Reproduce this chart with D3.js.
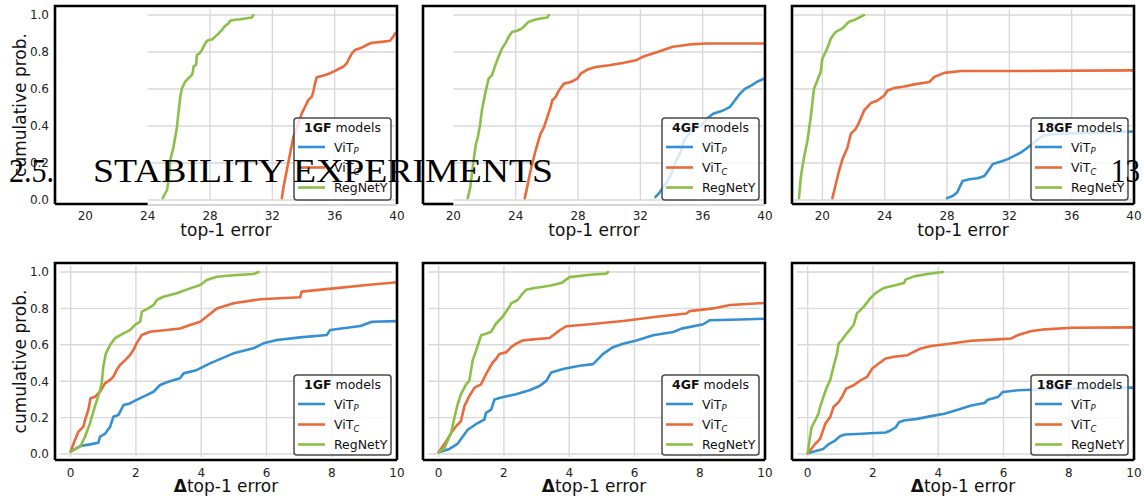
<!DOCTYPE html>
<html><head><meta charset="utf-8">
<script src="https://cdn.jsdelivr.net/npm/d3@7"></script>
<style>body{margin:0;background:#fff} svg{display:block}</style>
</head><body><svg id="c" width="1144" height="500"></svg>
<script>
// ---------------- data ----------------
const flopsGroups = ["1GF", "4GF", "18GF"];
const seriesNames = ["ViT_P", "ViT_C", "RegNetY"];
const errTicks = [20, 24, 28, 32, 36, 40];
const deltaTicks = [0, 2, 4, 6, 8, 10];
const probTicks = [0.0, 0.2, 0.4, 0.6, 0.8, 1.0];

// top-1 error CDFs  [error, cumulative prob]
const err1GF_ViTP = [];
const err1GF_ViTC = [[32.61,0.01],[32.72,0.072],[32.93,0.162],[33.14,0.252],[33.35,0.342],[33.67,0.414],[33.89,0.468],[34.1,0.504],[34.31,0.541],[34.53,0.558],[34.63,0.586],[34.74,0.631],[34.85,0.663],[35.17,0.67],[35.6,0.681],[35.92,0.694],[36.35,0.712],[36.56,0.721],[36.78,0.739],[36.88,0.757],[36.99,0.775],[37.1,0.793],[37.31,0.811],[37.63,0.82],[38.06,0.838],[38.38,0.85],[38.7,0.852],[39.12,0.856],[39.55,0.861],[39.76,0.883],[39.87,0.9],[40.2,0.905]];
const err1GF_RegNetY = [[24.96,0.01],[25.24,0.054],[25.34,0.108],[25.45,0.216],[25.66,0.288],[25.88,0.396],[25.99,0.486],[26.09,0.558],[26.2,0.604],[26.41,0.64],[26.62,0.658],[26.84,0.676],[26.9,0.694],[26.94,0.721],[27.1,0.73],[27.16,0.784],[27.33,0.793],[27.48,0.811],[27.58,0.829],[27.76,0.856],[27.9,0.865],[28.12,0.868],[28.33,0.883],[28.55,0.9],[28.76,0.919],[28.97,0.941],[29.19,0.955],[29.29,0.969],[29.5,0.973],[29.94,0.977],[30.37,0.982],[30.68,0.987],[30.79,1.0]];

const err4GF_ViTP = [[32.97,0.016],[33.23,0.04],[33.44,0.067],[33.76,0.103],[33.98,0.14],[34.3,0.212],[34.62,0.266],[34.84,0.33],[35.16,0.357],[35.48,0.384],[35.91,0.402],[36.24,0.438],[36.67,0.466],[37.31,0.484],[37.74,0.502],[38.06,0.538],[38.39,0.574],[38.71,0.601],[39.14,0.62],[39.46,0.638],[40.2,0.665]];
const err4GF_ViTC = [[24.58,0.01],[24.73,0.067],[24.95,0.158],[25.27,0.266],[25.59,0.357],[25.81,0.393],[26.02,0.447],[26.24,0.502],[26.34,0.538],[26.56,0.556],[26.77,0.592],[27.1,0.629],[27.53,0.638],[27.96,0.656],[28.17,0.683],[28.6,0.705],[29.14,0.719],[30.0,0.728],[30.86,0.741],[31.72,0.755],[32.15,0.774],[32.8,0.792],[33.44,0.81],[34.09,0.828],[35.16,0.841],[36.24,0.846],[40.2,0.846]];
const err4GF_RegNetY = [[20.92,0.01],[21.08,0.067],[21.29,0.21],[21.44,0.3],[21.57,0.34],[21.72,0.41],[21.83,0.485],[22.04,0.575],[22.26,0.656],[22.47,0.674],[22.69,0.728],[22.9,0.774],[23.12,0.819],[23.33,0.846],[23.55,0.882],[23.76,0.908],[24.09,0.915],[24.41,0.928],[24.62,0.946],[24.84,0.964],[25.27,0.976],[25.7,0.982],[26.02,0.987],[26.13,1.0]];

const err18GF_ViTP = [[28.0,0.01],[28.36,0.022],[28.64,0.04],[29.0,0.103],[29.43,0.112],[29.97,0.118],[30.4,0.13],[30.72,0.167],[30.93,0.194],[31.47,0.208],[31.9,0.221],[32.32,0.239],[32.75,0.257],[33.18,0.284],[33.61,0.312],[34.15,0.348],[34.9,0.357],[35.97,0.36],[38.11,0.366],[40.2,0.371]];
const err18GF_ViTC = [[20.64,0.01],[20.86,0.085],[21.07,0.158],[21.29,0.221],[21.61,0.284],[21.82,0.357],[22.14,0.384],[22.36,0.42],[22.68,0.484],[23.11,0.524],[23.54,0.538],[23.97,0.565],[24.18,0.592],[24.61,0.605],[25.25,0.614],[25.9,0.625],[26.86,0.638],[27.18,0.665],[27.82,0.687],[28.9,0.697],[31.68,0.697],[40.2,0.701]];
const err18GF_RegNetY = [[18.5,0.01],[18.61,0.12],[18.71,0.176],[18.82,0.23],[19.04,0.32],[19.25,0.447],[19.46,0.6],[19.68,0.647],[19.89,0.692],[20.0,0.765],[20.21,0.8],[20.43,0.846],[20.54,0.873],[20.86,0.909],[21.29,0.928],[21.5,0.946],[21.71,0.964],[22.14,0.976],[22.47,0.991],[22.68,1.0]];

// delta top-1 error CDFs  [delta error, cumulative prob]
const d1GF_ViTP = [[0,0.013],[0.29,0.044],[0.59,0.053],[0.85,0.062],[0.9,0.095],[1.05,0.11],[1.21,0.15],[1.31,0.205],[1.46,0.214],[1.62,0.269],[1.82,0.278],[2.02,0.297],[2.23,0.315],[2.54,0.342],[2.74,0.379],[2.99,0.397],[3.35,0.416],[3.46,0.443],[3.87,0.462],[4.27,0.498],[4.79,0.538],[4.99,0.553],[5.6,0.581],[5.91,0.608],[6.32,0.626],[7.03,0.641],[7.85,0.654],[7.95,0.681],[8.88,0.703],[9.23,0.727],[10.2,0.731]];
const d1GF_ViTC = [[0,0.013],[0.13,0.077],[0.24,0.123],[0.39,0.15],[0.44,0.187],[0.54,0.242],[0.61,0.306],[0.75,0.315],[0.9,0.342],[1.05,0.388],[1.21,0.407],[1.31,0.425],[1.41,0.462],[1.51,0.489],[1.67,0.516],[1.82,0.544],[1.92,0.571],[2.02,0.608],[2.18,0.654],[2.43,0.672],[2.94,0.681],[3.35,0.69],[3.66,0.709],[3.97,0.727],[4.17,0.755],[4.48,0.8],[4.99,0.828],[5.81,0.85],[7.03,0.861],[7.08,0.892],[8.06,0.91],[9.08,0.929],[10.2,0.947]];
const d1GF_RegNetY = [[0,0.013],[0.29,0.04],[0.44,0.095],[0.59,0.168],[0.74,0.26],[0.9,0.35],[0.95,0.388],[1.0,0.48],[1.08,0.553],[1.21,0.6],[1.36,0.636],[1.62,0.663],[1.82,0.681],[1.97,0.709],[2.13,0.727],[2.18,0.782],[2.38,0.8],[2.54,0.819],[2.64,0.846],[2.84,0.864],[3.25,0.883],[3.66,0.91],[3.97,0.929],[4.17,0.956],[4.48,0.974],[4.99,0.982],[5.6,0.989],[5.76,1.0]];

const d4GF_ViTP = [[0,0.01],[0.33,0.028],[0.58,0.056],[0.74,0.096],[0.89,0.133],[1.15,0.165],[1.4,0.189],[1.45,0.226],[1.61,0.244],[1.71,0.3],[1.97,0.313],[2.37,0.328],[2.78,0.35],[3.09,0.374],[3.3,0.402],[3.45,0.448],[3.81,0.467],[4.32,0.485],[4.73,0.494],[5.04,0.55],[5.34,0.587],[5.65,0.606],[6.06,0.624],[6.57,0.652],[7.19,0.67],[7.44,0.689],[8.11,0.713],[8.31,0.735],[9.23,0.739],[10.2,0.744]];
const d4GF_ViTC = [[0,0.01],[0.23,0.069],[0.38,0.115],[0.53,0.152],[0.68,0.18],[0.79,0.263],[0.94,0.319],[1.1,0.365],[1.3,0.383],[1.45,0.439],[1.66,0.504],[1.76,0.522],[1.86,0.55],[2.07,0.559],[2.22,0.587],[2.37,0.606],[2.58,0.624],[2.89,0.63],[3.4,0.637],[3.71,0.68],[3.91,0.702],[4.63,0.713],[5.65,0.731],[6.67,0.754],[7.59,0.772],[7.69,0.785],[8.41,0.8],[8.93,0.819],[10.2,0.832]];
const d4GF_RegNetY = [[0,0.01],[0.17,0.031],[0.38,0.115],[0.48,0.198],[0.58,0.272],[0.68,0.328],[0.84,0.383],[0.94,0.402],[1.04,0.513],[1.15,0.569],[1.3,0.652],[1.45,0.661],[1.6,0.67],[1.76,0.717],[1.96,0.754],[2.17,0.809],[2.22,0.828],[2.42,0.846],[2.58,0.883],[2.68,0.902],[2.89,0.911],[3.4,0.924],[3.76,0.939],[4.01,0.972],[4.63,0.985],[5.14,0.991],[5.19,1.0]];

const d18GF_ViTP = [[0,0.004],[0.28,0.018],[0.48,0.028],[0.59,0.046],[0.69,0.059],[0.84,0.074],[1.0,0.099],[1.15,0.107],[1.51,0.11],[1.92,0.114],[2.39,0.118],[2.54,0.129],[2.7,0.147],[2.8,0.175],[2.95,0.184],[3.36,0.193],[3.78,0.208],[4.19,0.221],[4.6,0.243],[5.01,0.267],[5.42,0.28],[5.52,0.298],[5.83,0.313],[5.98,0.341],[6.45,0.35],[7.07,0.354],[8.1,0.359],[10.2,0.365]];
const d18GF_ViTC = [[0,0.004],[0.23,0.055],[0.38,0.083],[0.54,0.166],[0.69,0.203],[0.79,0.258],[0.95,0.285],[1.05,0.313],[1.18,0.359],[1.41,0.378],[1.62,0.405],[1.82,0.424],[1.98,0.47],[2.18,0.497],[2.39,0.525],[2.65,0.534],[3.06,0.543],[3.26,0.562],[3.47,0.58],[3.78,0.593],[4.29,0.604],[5.01,0.622],[5.83,0.63],[6.24,0.635],[6.45,0.654],[6.86,0.676],[7.27,0.685],[8.1,0.694],[10.2,0.696]];
const d18GF_RegNetY = [[0,0.004],[0.07,0.092],[0.12,0.147],[0.23,0.184],[0.33,0.221],[0.38,0.258],[0.48,0.313],[0.59,0.368],[0.69,0.405],[0.79,0.479],[0.9,0.552],[0.95,0.608],[1.05,0.626],[1.2,0.663],[1.41,0.709],[1.51,0.773],[1.72,0.81],[1.92,0.856],[2.08,0.884],[2.33,0.912],[2.75,0.93],[2.95,0.939],[3.0,0.958],[3.26,0.976],[3.67,0.989],[4.14,1.0]];

// ---------------- layout / style ----------------
const colors = {ViT_P: "#3590d2", ViT_C: "#ea6a3c", RegNetY: "#8cbf48"};
const colLeft = [55, 423, 792], panelW = 342;
const rows = [
  {top: 6, bottom: 204, y0: 200, y1: 15, dom: [18.05, 40], ticks: errTicks, label: "top-1 error", delta: false,
   data: [[err1GF_ViTP, err1GF_ViTC, err1GF_RegNetY], [err4GF_ViTP, err4GF_ViTC, err4GF_RegNetY], [err18GF_ViTP, err18GF_ViTC, err18GF_RegNetY]],
   gridStart: [24, 20, null], tickY: 220, labelY: 236, legTop: 118, legH: 82},
  {top: 263, bottom: 460, y0: 454, y1: 272, dom: [-0.48, 10], ticks: deltaTicks, label: "top-1 error", delta: true,
   data: [[d1GF_ViTP, d1GF_ViTC, d1GF_RegNetY], [d4GF_ViTP, d4GF_ViTC, d4GF_RegNetY], [d18GF_ViTP, d18GF_ViTC, d18GF_RegNetY]],
   gridStart: [null, null, null], tickY: 477, labelY: 492, legTop: 375, legH: 80}
];
const FONT = "'DejaVu Sans', sans-serif";
const svg = d3.select("#c");
const defs = svg.append("defs");

rows.forEach((row, ri) => {
  const y = d3.scaleLinear().domain([0, 1]).range([row.y0, row.y1]);
  colLeft.forEach((left, ci) => {
    const right = left + panelW;
    const x = d3.scaleLinear().domain(row.dom).range([left, right]);
    const g = svg.append("g");
    const clipId = `clip${ri}${ci}`;
    defs.append("clipPath").attr("id", clipId).append("rect")
      .attr("x", left).attr("y", row.top).attr("width", panelW).attr("height", row.bottom - row.top);
    const gs = row.gridStart[ci];
    const gx0 = gs != null ? x(gs) : left + (ri === 1 ? 5 : 2);
    const gx1 = right - (ri === 1 ? 5 : 2);
    // grid
    const grid = g.append("g").attr("stroke", "#d9d9d9").attr("stroke-width", 1.4);
    grid.selectAll("line.h").data(probTicks).join("line")
      .attr("x1", gx0).attr("x2", gx1).attr("y1", d => y(d)).attr("y2", d => y(d));
    grid.selectAll("line.v").data(row.ticks.filter(t => gs == null || t > gs)).join("line")
      .attr("x1", d => x(d)).attr("x2", d => x(d)).attr("y1", row.top + 3).attr("y2", row.bottom - 3);
    // lines
    const line = d3.line().x(d => x(d[0])).y(d => y(d[1]));
    const lg = g.append("g").attr("clip-path", `url(#${clipId})`);
    seriesNames.forEach((s, si) => {
      const d = row.data[ci][si];
      if (!d.length) return;
      lg.append("path").datum(d).attr("d", line).attr("fill", "none")
        .attr("stroke", colors[s]).attr("stroke-width", 2.6)
        .attr("stroke-linejoin", "round").attr("stroke-linecap", "round");
    });
    // frame
    const fr = g.append("g").attr("stroke", "#000").attr("stroke-width", 2.6).attr("fill", "none");
    fr.append("path").attr("d", `M${left},${row.bottom}V${row.top}H${right}V${row.bottom}`).attr("stroke-linejoin", "miter");
    if (gs != null) {
      fr.append("line").attr("x1", left).attr("x2", x(gs)).attr("y1", row.bottom).attr("y2", row.bottom);
      g.append("line").attr("x1", x(gs)).attr("x2", right).attr("y1", row.bottom + 1).attr("y2", row.bottom + 1)
        .attr("stroke", "#c8c8c8").attr("stroke-width", 1.4);
    } else {
      fr.append("line").attr("x1", left).attr("x2", right).attr("y1", row.bottom).attr("y2", row.bottom);
    }
    // x tick labels
    g.append("g").selectAll("text").data(row.ticks).join("text")
      .attr("x", d => x(d)).attr("y", row.tickY).attr("text-anchor", "middle")
      .attr("font-family", FONT).attr("font-size", 12).attr("fill", "#222").text(d => d);
    // x label
    const xl = g.append("text").attr("x", (left + right) / 2).attr("y", row.labelY).attr("text-anchor", "middle")
      .attr("font-family", FONT).attr("font-size", 17).attr("fill", "#111");
    if (row.delta) xl.append("tspan").attr("font-weight", "bold").text("Δ");
    xl.append("tspan").text(row.label);
    // y tick labels & label on first column
    if (ci === 0) {
      g.append("g").selectAll("text").data(probTicks).join("text")
        .attr("x", left - 6).attr("y", d => y(d) + 4.3).attr("text-anchor", "end")
        .attr("font-family", FONT).attr("font-size", 12).attr("fill", "#222").text(d => d.toFixed(1));
      g.append("text").attr("transform", `translate(25.5,${(row.top + row.bottom) / 2}) rotate(-90)`)
        .attr("text-anchor", "middle").attr("font-family", FONT).attr("font-size", 17).attr("fill", "#111")
        .text("cumulative prob.");
    }
    // legend
    const lw = 97, lh = row.legH;
    const lx = right - 6 - lw, ly = row.legTop;
    const leg = g.append("g");
    leg.append("rect").attr("x", lx).attr("y", ly).attr("width", lw).attr("height", lh).attr("rx", 3)
      .attr("fill", "#fff").attr("fill-opacity", 0.8).attr("stroke", "#4a4a4a").attr("stroke-width", 1.5);
    const title = leg.append("text").attr("x", lx + lw / 2).attr("y", ly + 13.5).attr("text-anchor", "middle")
      .attr("font-family", FONT).attr("font-size", 12.5).attr("fill", "#111");
    title.append("tspan").attr("font-weight", "bold").text(flopsGroups[ci]);
    title.append("tspan").text(" models");
    const rowYs = [29, 49.5, 69.5];
    seriesNames.forEach((s, si) => {
      const cy = ly + rowYs[si];
      leg.append("line").attr("x1", lx + 4).attr("x2", lx + 31).attr("y1", cy).attr("y2", cy)
        .attr("stroke", colors[s]).attr("stroke-width", 2.6);
      const t = leg.append("text").attr("x", lx + 40).attr("y", cy + 4.5)
        .attr("font-family", FONT).attr("font-size", 12.5).attr("fill", "#111");
      if (s === "RegNetY") t.text("RegNetY");
      else {
        t.append("tspan").text("ViT");
        t.append("tspan").attr("font-size", 8.5).attr("font-style", "italic").attr("dy", 2.5).text(s.slice(-1));
      }
    });
  });
});

// page header overlay (from the source document)
const SERIF = "'Liberation Serif', 'Times New Roman', serif";
svg.append("text").attr("x", 9).attr("y", 182).attr("font-family", SERIF).attr("font-size", 34)
  .attr("fill", "#000").attr("textLength", 45).attr("lengthAdjust", "spacingAndGlyphs").text("2.5.");
svg.append("text").attr("x", 93).attr("y", 182).attr("font-family", SERIF).attr("font-size", 34)
  .attr("fill", "#000").attr("textLength", 460).attr("lengthAdjust", "spacingAndGlyphs").text("STABILITY EXPERIMENTS");
svg.append("text").attr("x", 1111).attr("y", 182).attr("font-family", SERIF).attr("font-size", 34)
  .attr("fill", "#000").attr("textLength", 29).attr("lengthAdjust", "spacingAndGlyphs").text("13");
</script></body></html>
